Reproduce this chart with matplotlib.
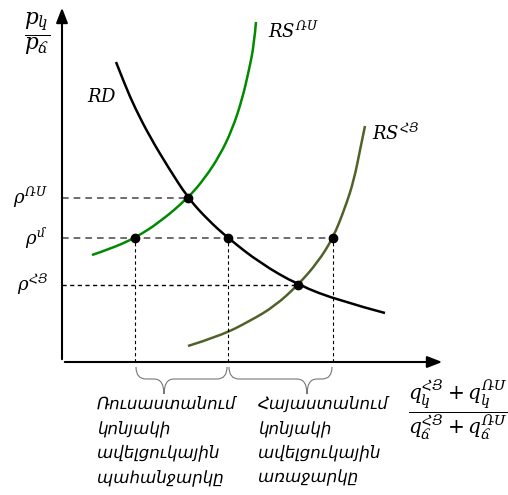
import matplotlib
matplotlib.use("Agg")
import matplotlib.pyplot as plt
from matplotlib.path import Path
from matplotlib.patches import PathPatch

plt.rcParams['mathtext.fontset'] = 'dejavuserif'
plt.rcParams['font.family'] = ['DejaVu Serif', 'DejaVu Sans']

# curves (relative quantity, relative price)
rd_x = [54, 63, 73, 88, 106, 126, 146, 166, 198, 236, 278, 323]
rd_y = [300, 277, 254, 225, 195, 164, 142, 124, 99, 77, 61, 49]

rs_ru_x = [30, 48, 73, 98, 126, 143, 158, 170, 180, 187, 192, 194]
rs_ru_y = [107, 113, 124, 140, 164, 184, 207, 232, 262, 292, 317, 340]

rs_am_x = [126, 158, 188, 213, 236, 256, 271, 283, 292, 298, 303]
rs_am_y = [16, 26, 41, 56, 77, 100, 124, 154, 182, 212, 236]

# equilibrium points
p_ru, p_w, p_am = 164, 124, 77
eq_ru_x, eq_am_x = 126, 236
world_x = [73, 166, 271]  # RU supply, world demand, AM supply at world price

price_labels = [r'$\rho^{ՌՍ}$', r'$\rho^{մ}$', r'$\rho^{ՀՅ}$']

ru_text = 'Ռուսաստանում\nկոնյակի\nավելցուկային\nպահանջարկը'
am_text = 'Հայաստանում\nկոնյակի\nավելցուկային\nառաջարկը'


def smooth_curve(ax, xs, ys, color):
    # quadratic bezier through midpoints, read points act as controls
    pts = list(zip(xs, ys))
    verts = [pts[0]]
    codes = [Path.MOVETO]
    for i in range(1, len(pts) - 1):
        nxt = pts[i + 1] if i == len(pts) - 2 else ((pts[i][0] + pts[i + 1][0]) / 2,
                                                      (pts[i][1] + pts[i + 1][1]) / 2)
        verts += [pts[i], nxt]
        codes += [Path.CURVE3, Path.CURVE3]
    ax.add_patch(PathPatch(Path(verts, codes), fill=False, lw=1.8, edgecolor=color,
                           capstyle='butt'))


fig = plt.figure(figsize=(5.08, 4.95), dpi=100)
ax = fig.add_axes([62 / 508, (495 - 362) / 495, (445 - 62) / 508, (362 - 5) / 495])
ax.set_xlim(0, 383)
ax.set_ylim(0, 357)
ax.axis('off')

# axes with arrows
ax.annotate('', xy=(0, 357), xytext=(0, 0),
            arrowprops=dict(arrowstyle='-|>,head_length=0.9,head_width=0.35', lw=1.5, color='black'),
            annotation_clip=False)
ax.annotate('', xy=(383, 0), xytext=(0, 0),
            arrowprops=dict(arrowstyle='-|>,head_length=0.9,head_width=0.35', lw=1.5, color='black'),
            annotation_clip=False)

# dashed guides
ax.plot([0, eq_ru_x], [p_ru, p_ru], ls=(0, (4, 3)), color='#555555', lw=1.2)
ax.plot([0, world_x[-1]], [p_w, p_w], ls=(0, (4, 3)), color='#555555', lw=1.2)
ax.plot([0, eq_am_x], [p_am, p_am], ls=(0, (3, 2.5)), color='black', lw=1.0)
for xv in world_x:
    ax.plot([xv, xv], [0, p_w], ls=(0, (3, 2.5)), color='black', lw=0.8)

smooth_curve(ax, rd_x, rd_y, 'black')
smooth_curve(ax, rs_ru_x, rs_ru_y, '#008a00')
smooth_curve(ax, rs_am_x, rs_am_y, '#4f6228')

ax.scatter([eq_ru_x] + world_x + [eq_am_x], [p_ru, p_w, p_w, p_w, p_am],
           s=36, color='black', zorder=5)

# curve labels
ax.text(25, 265, '$RD$', fontsize=13, ha='left', va='center')
ax.text(206, 330, '$RS^{ՌՍ}$', fontsize=13, ha='left', va='center')
ax.text(310, 228, '$RS^{ՀՅ}$', fontsize=13, ha='left', va='center')

for lab, yv in zip(price_labels, [p_ru, p_w, p_am]):
    ax.text(-14, yv, lab, fontsize=13, ha='right', va='center', clip_on=False)

# axis titles
ax.text(-25, 328, r'$\dfrac{p_{կ}}{p_{ճ}}$', fontsize=15.5, ha='center', va='center')
ax.text(396, -48, r'$\dfrac{q_{կ}^{ՀՅ}+q_{կ}^{ՌՍ}}{q_{ճ}^{ՀՅ}+q_{ճ}^{ՌՍ}}$',
        fontsize=14.5, ha='center', va='center')

# braces under the axis: (left, tip, right)
braces = [(world_x[0] + 1, 102, world_x[1] - 1), (world_x[1] + 1, 245, world_x[2] - 1)]
top, mid, bot = -5, -17, -32
for l, t, r in braces:
    verts = [(l, top), (l, mid), (l + 10, mid),
             (t - 10, mid), (t, mid), (t, bot),
             (t, mid), (t + 10, mid),
             (r - 10, mid), (r, mid), (r, top)]
    codes = [Path.MOVETO, Path.CURVE3, Path.CURVE3,
             Path.LINETO, Path.CURVE3, Path.CURVE3,
             Path.CURVE3, Path.CURVE3,
             Path.LINETO, Path.CURVE3, Path.CURVE3]
    ax.add_patch(PathPatch(Path(verts, codes), fill=False, lw=0.8,
                           edgecolor='#777777', clip_on=False))

ax.text(35, -33, ru_text, fontsize=12, style='italic', ha='left', va='top',
        linespacing=1.45, family=['DejaVu Sans'])
ax.text(196, -33, am_text, fontsize=12, style='italic', ha='left', va='top',
        linespacing=1.45, family=['DejaVu Sans'])

fig.savefig('out.png', dpi=100)
